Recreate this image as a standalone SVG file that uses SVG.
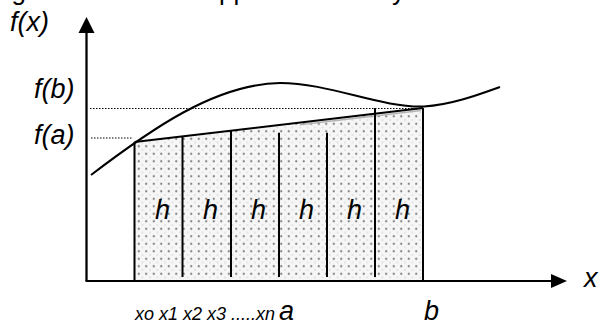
<svg xmlns="http://www.w3.org/2000/svg" width="601" height="322" viewBox="0 0 601 322">
<style>
.lbl{font-family:"Liberation Sans",Arial,sans-serif;font-style:italic;font-size:27px;fill:#000}
.cap{font-family:"Liberation Sans",Arial,sans-serif;font-size:26px;fill:#000}
.small{font-family:"Liberation Sans",Arial,sans-serif;font-style:italic;font-size:18px;fill:#000}
.axis{stroke:#000;stroke-width:2.3;fill:none}
.edge{stroke:#000;stroke-width:2;fill:none}
.dot{stroke:#000;stroke-width:1;stroke-dasharray:1.5 1.5;fill:none}
</style>
<defs>
<pattern id="stip" width="7.5" height="7.5" patternUnits="userSpaceOnUse">
<rect width="7.5" height="7.5" fill="#f6f6f6"/>
<circle cx="3.75" cy="3.75" r="1.1" fill="#808080"/>
<circle cx="0" cy="0" r="0.7" fill="#c4c4c4"/>
<circle cx="7.5" cy="0" r="0.7" fill="#c4c4c4"/>
<circle cx="0" cy="7.5" r="0.7" fill="#c4c4c4"/>
<circle cx="7.5" cy="7.5" r="0.7" fill="#c4c4c4"/>
</pattern>
</defs>
<g id="caption">
<text class="cap" x="11.5" y="-0.5">g</text>
<text class="cap" x="219" y="-0.5">pp</text>
<text class="cap" x="392" y="-0.5">y</text>
</g>
<g id="area">
<polygon points="134.5,142 423,108 423,281 134.5,281" fill="url(#stip)"/>
<line x1="300" y1="124.8" x2="421" y2="110.6" stroke="#b4b4b4" stroke-width="1.5"/>
<line x1="134.5" y1="142" x2="134.5" y2="281" class="edge" stroke-width="1.6"/>
<line x1="423" y1="108" x2="423" y2="281" class="edge"/>
<line x1="134.5" y1="142" x2="423" y2="108" class="edge"/>
</g>
<g id="strips">
<line x1="182.5" y1="136" x2="182.5" y2="277" class="edge"/>
<line x1="231" y1="131" x2="231" y2="277" class="edge"/>
<line x1="279" y1="132.7" x2="279" y2="277" class="edge"/>
<line x1="327" y1="132.7" x2="327" y2="277" class="edge"/>
<line x1="375" y1="108" x2="375" y2="277" class="edge"/>
</g>
<g id="guides">
<line x1="90" y1="108.5" x2="423" y2="108.5" class="dot"/>
<line x1="91" y1="138" x2="132" y2="138" class="dot"/>
</g>
<g id="curve">
<path d="M91,175 C150,130 215,84 280,83 C330,83 380,108 424,106.5 C450,105 475,96 500,87" class="edge"/>
</g>
<g id="axes">
<line x1="86.5" y1="281" x2="86.5" y2="31" class="axis"/>
<polygon points="86.5,17 94.5,33 78.5,33" fill="#000"/>
<line x1="85.5" y1="281" x2="553" y2="281" class="edge"/>
<polygon points="567,281 551,274 551,288" fill="#000"/>
</g>
<g id="labels">
<text class="lbl" x="10" y="31">f(x)</text>
<text class="lbl" x="34" y="98">f(b)</text>
<text class="lbl" x="34" y="144">f(a)</text>
<text class="lbl" x="584" y="286.5">x</text>
<text class="lbl" x="162.5" y="219" text-anchor="middle">h</text>
<text class="lbl" x="210.5" y="219" text-anchor="middle">h</text>
<text class="lbl" x="258.5" y="219" text-anchor="middle">h</text>
<text class="lbl" x="306.5" y="219" text-anchor="middle">h</text>
<text class="lbl" x="354.5" y="219" text-anchor="middle">h</text>
<text class="lbl" x="402.5" y="219" text-anchor="middle">h</text>
<text class="small" x="135" y="319.5">xo x1 x2 x3 .....xn</text>
<text class="lbl" x="279" y="320">a</text>
<text class="lbl" x="424" y="320">b</text>
</g>
</svg>
